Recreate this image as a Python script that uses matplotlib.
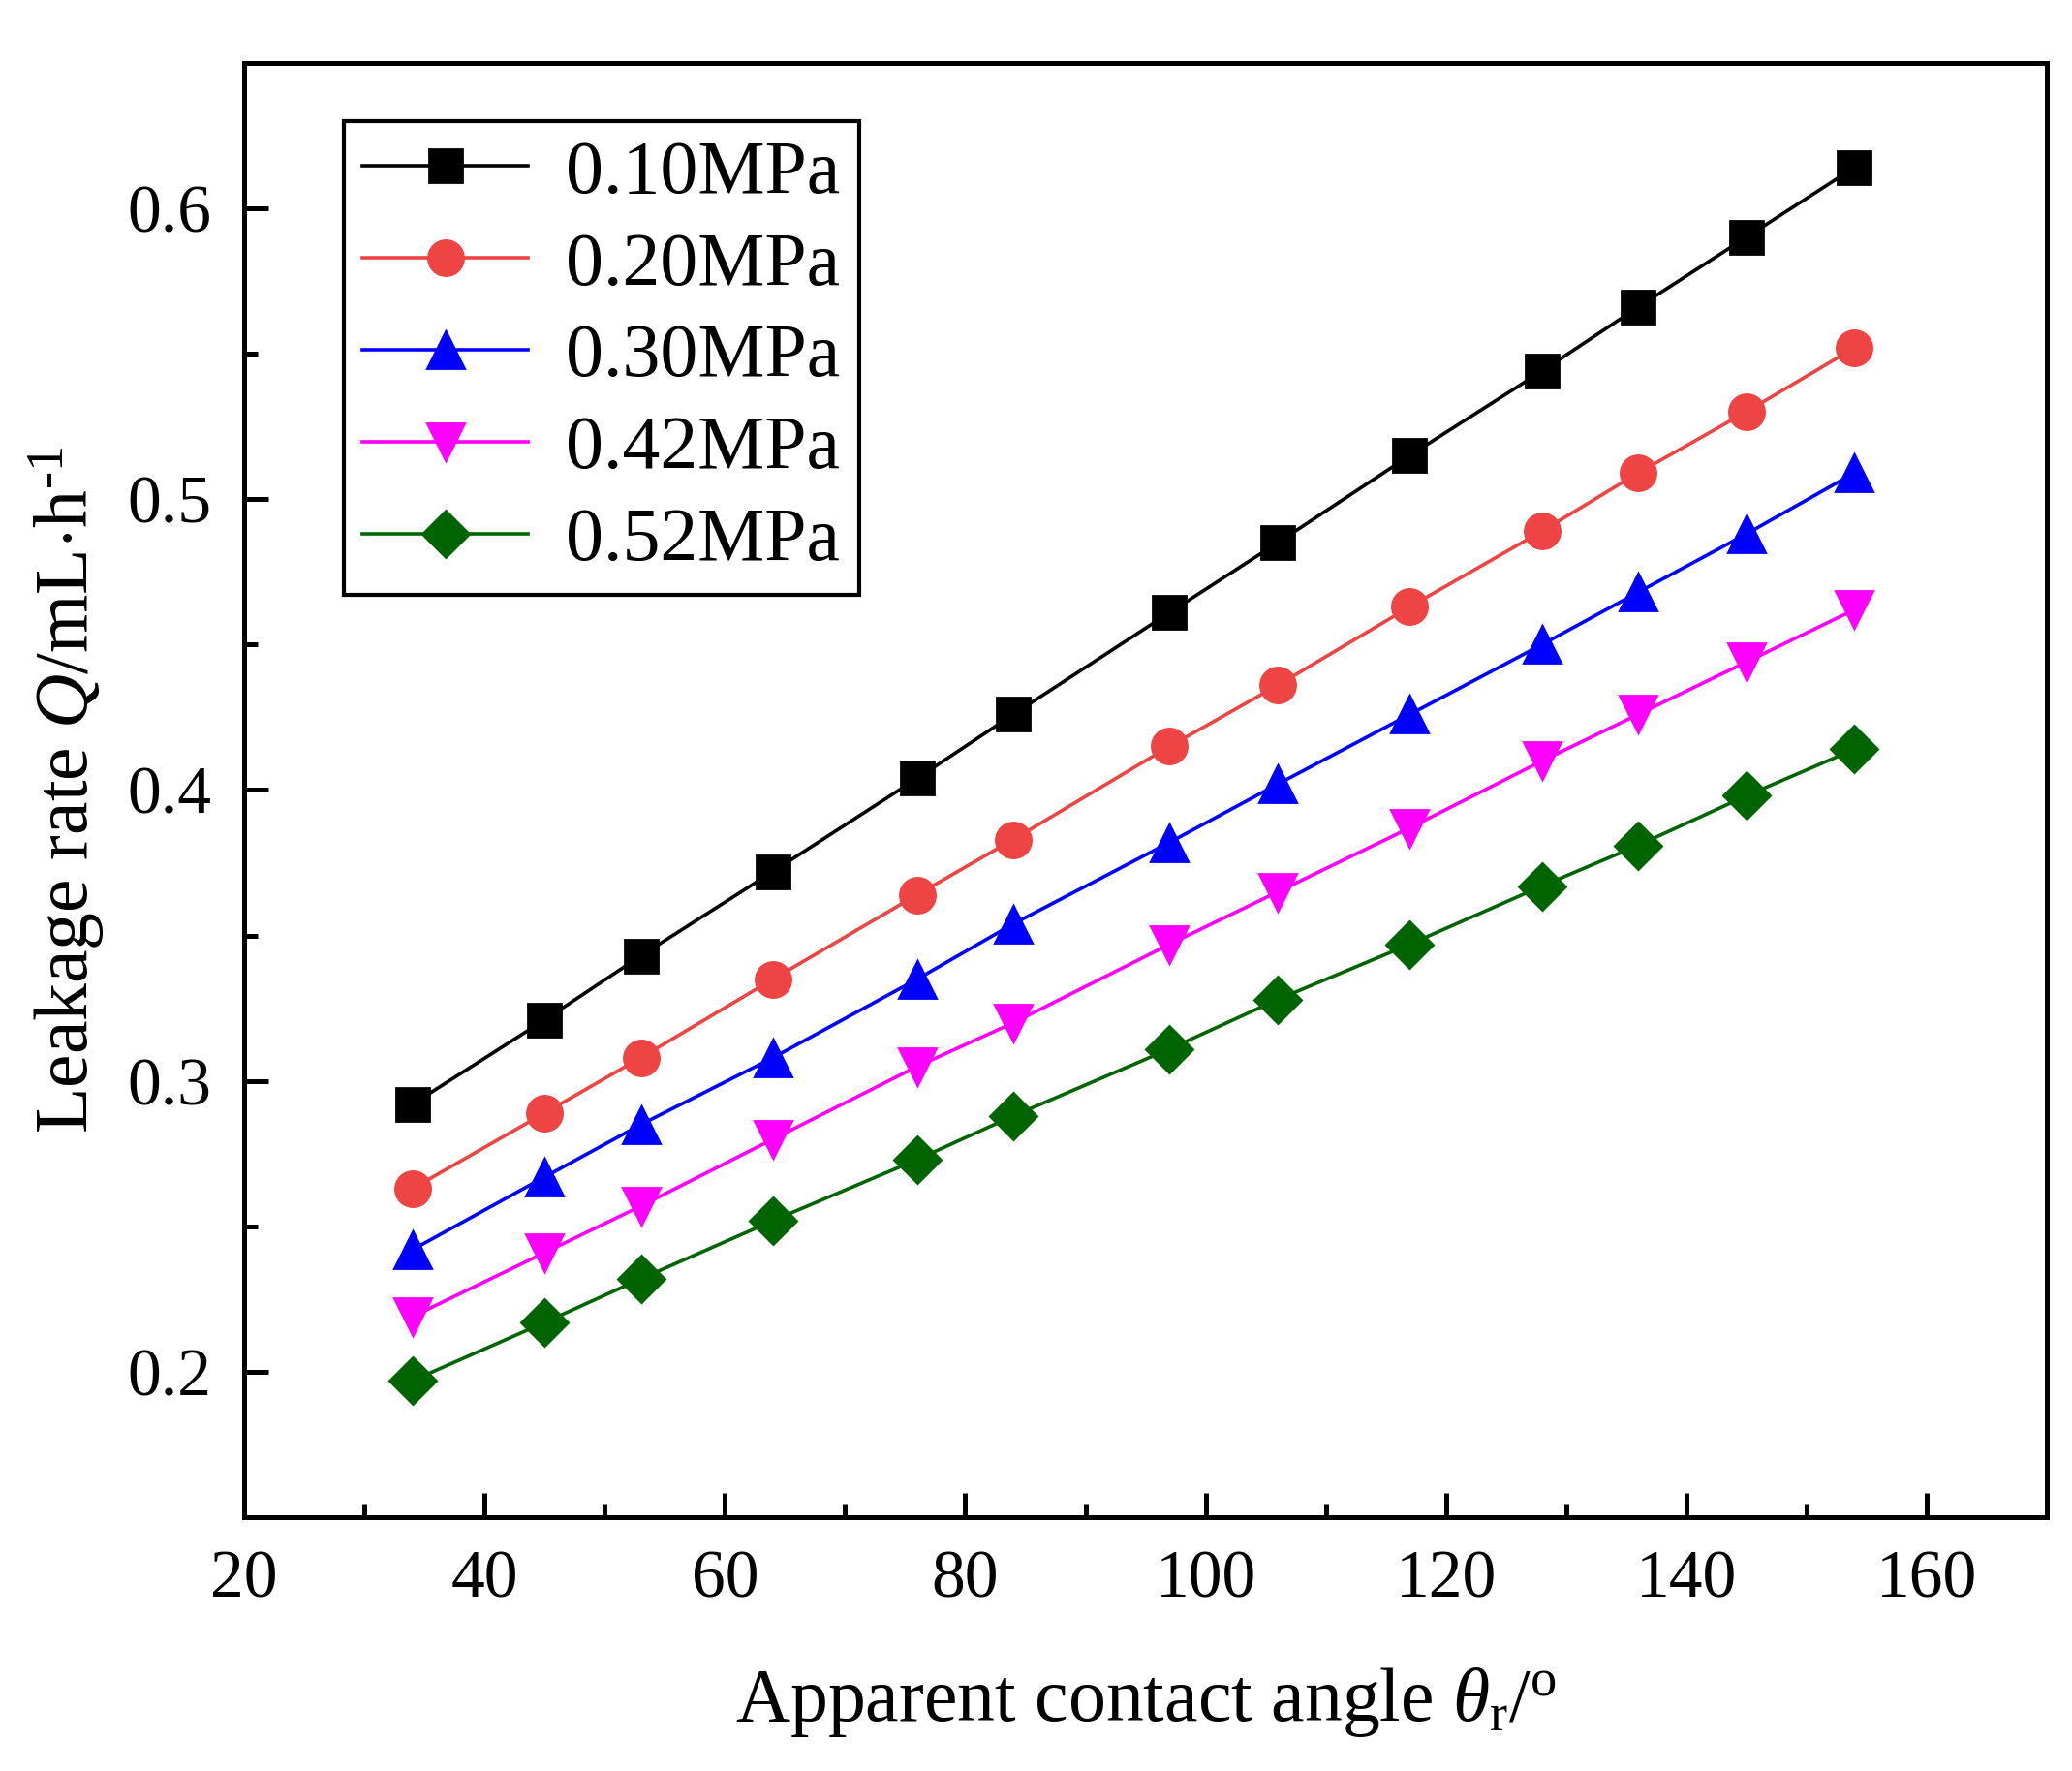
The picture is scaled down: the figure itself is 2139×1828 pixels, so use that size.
import matplotlib
matplotlib.use("Agg")
import matplotlib.pyplot as plt
from matplotlib.ticker import MultipleLocator

plt.rcParams['font.family'] = ['Liberation Serif', 'DejaVu Serif']
plt.rcParams['mathtext.fontset'] = 'custom'
plt.rcParams['mathtext.rm'] = 'Liberation Serif'
plt.rcParams['mathtext.it'] = 'Liberation Serif:italic'

angles = [34, 45, 53, 64, 76, 84, 97, 106, 117, 128, 136, 145, 154]
q_010 = [0.292, 0.321, 0.343, 0.372, 0.404, 0.426, 0.461, 0.485, 0.515, 0.544, 0.566, 0.590, 0.614]
q_020 = [0.263, 0.289, 0.308, 0.335, 0.364, 0.383, 0.415, 0.436, 0.463, 0.489, 0.509, 0.530, 0.552]
q_030 = [0.242, 0.267, 0.285, 0.308, 0.335, 0.354, 0.382, 0.402, 0.426, 0.450, 0.468, 0.488, 0.509]
q_042 = [0.219, 0.241, 0.257, 0.280, 0.305, 0.320, 0.347, 0.365, 0.387, 0.410, 0.426, 0.444, 0.462]
q_052 = [0.197, 0.217, 0.232, 0.252, 0.273, 0.288, 0.311, 0.328, 0.347, 0.367, 0.381, 0.398, 0.414]
labels = ['0.10MPa', '0.20MPa', '0.30MPa', '0.42MPa', '0.52MPa']

series = [q_010, q_020, q_030, q_042, q_052]
colors = ['black', '#ee4444', '#0000ff', '#ff00ff', '#006400']
markers = ['s', 'o', '^', 'v', 'D']
msizes = [12, 13, 14, 14, 12]

fig = plt.figure(figsize=(2139/200, 1828/200), dpi=200)
ax = fig.add_axes([0.1179, 0.1432, 0.8699, 0.8214])

for ys, c, m, ms, lab in zip(series, colors, markers, msizes, labels):
    ax.plot(angles, ys, color=c, marker=m, markersize=ms, linewidth=1.3, label=lab)

ax.set_xlim(20, 170)
ax.set_ylim(0.15, 0.65)
ax.xaxis.set_major_locator(MultipleLocator(20))
ax.xaxis.set_minor_locator(MultipleLocator(10))
ax.yaxis.set_major_locator(MultipleLocator(0.1))
ax.yaxis.set_minor_locator(MultipleLocator(0.05))
ax.tick_params(which='both', direction='in', top=False, right=False, width=1.8, labelsize=25)
ax.tick_params(which='major', length=9, pad=12)
ax.tick_params(which='minor', length=5)
for s in ax.spines.values():
    s.set_linewidth(1.8)

ax.set_xlabel(r'Apparent contact angle $\it{\theta}_\mathrm{r}$/$^\mathrm{o}$', fontsize=28, labelpad=20)
ax.set_ylabel(r'Leakage rate $\it{Q}$/mL$\cdot$h$^{\text{-1}}$', fontsize=28, labelpad=8)

leg = ax.legend(loc='upper left', bbox_to_anchor=(0.055, 0.96), fontsize=28, frameon=True,
                fancybox=False, edgecolor='black', framealpha=1, handlelength=2.2,
                borderpad=0.25, labelspacing=0.3, handletextpad=0.5, borderaxespad=0)
leg.get_frame().set_linewidth(1.5)

fig.savefig('out.png', dpi=200)
